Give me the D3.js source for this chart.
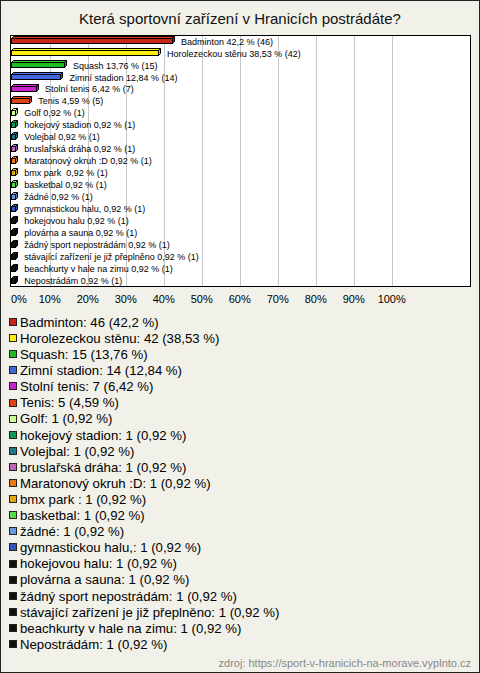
<!DOCTYPE html>
<html><head><meta charset="utf-8">
<script src="https://cdn.jsdelivr.net/npm/d3@7"></script>
<style>
html,body{margin:0;padding:0;background:#fff;}
svg{display:block;}
</style></head>
<body>
<script>
const categories = ["Badminton","Horolezeckou stěnu","Squash","Zimní stadion","Stolní tenis","Tenis","Golf","hokejový stadion","Volejbal","bruslařská dráha","Maratonový okruh :D","bmx park ","basketbal","žádné","gymnastickou halu,","hokejovou halu","plovárna a sauna","žádný sport nepostrádám","stávající zařízení je již přeplněno","beachkurty v hale na zimu","Nepostrádám"];
const counts = [46,42,15,14,7,5,1,1,1,1,1,1,1,1,1,1,1,1,1,1,1];
const percents = [42.2,38.53,13.76,12.84,6.42,4.59,0.92,0.92,0.92,0.92,0.92,0.92,0.92,0.92,0.92,0.92,0.92,0.92,0.92,0.92,0.92];
const colors = ["#c8261a","#ffee11","#22bb22","#4466dd","#cc22cc","#dd4411","#ccff99","#119955","#227788","#bb66bb","#ee7711","#ddaa11","#55dd44","#6699dd","#3355bb","#111111","#111111","#111111","#111111","#111111","#111111"];
const xTicks = [0,10,20,30,40,50,60,70,80,90,100];
const title = "Která sportovní zařízení v Hranicích postrádáte?";
const source = "zdroj: https://sport-v-hranicich-na-morave.vyplnto.cz";

const W = 480, H = 673;
const fmt = v => String(v).replace(".", ",");
const svg = d3.select("body").append("svg").attr("width", W).attr("height", H);
const font = "'Liberation Sans', Arial, sans-serif";

svg.append("rect").attr("x",0.5).attr("y",0.5).attr("width",W-1).attr("height",H-1)
  .attr("fill","#f2f1e9").attr("stroke","#222");

svg.append("text").attr("x",240).attr("y",24).attr("text-anchor","middle")
  .attr("font-family",font).attr("font-size",15).attr("fill","#111").text(title);

const plot = {x0:10.5, y0:35.5, x1:470.5, y1:286.5};
svg.append("rect").attr("x",plot.x0).attr("y",plot.y0).attr("width",plot.x1-plot.x0).attr("height",plot.y1-plot.y0)
  .attr("fill","#fff");

const x = d3.scaleLinear().domain([0,100]).range([11.7,391.7]);
const y = d3.scaleBand().domain(categories).range([plot.y0, plot.y1]);

// grid
svg.append("g").selectAll("line").data(xTicks.slice(1)).join("line")
  .attr("x1", d=>Math.round(x(d))+0.5).attr("x2", d=>Math.round(x(d))+0.5)
  .attr("y1", plot.y0).attr("y2", plot.y1).attr("stroke","#c8c8c8").attr("stroke-width",1);

svg.append("rect").attr("x",plot.x0).attr("y",plot.y0).attr("width",plot.x1-plot.x0).attr("height",plot.y1-plot.y0)
  .attr("fill","none").attr("stroke","#000");

// bars (3D)
const bars = svg.append("g");
categories.forEach((c,i)=>{
  const cy = y(c) + y.bandwidth()/2;
  const xa = Math.round(x(0)) - 0.5, xb = Math.round(x(percents[i])) + 0.5;
  const top = Math.round(cy) - 2.5, bot = Math.round(cy) + 2.5;
  const d = 2;
  const col = d3.color(colors[i]);
  bars.append("path").attr("d",`M${xa},${top}L${xa+d},${top-d}L${xb+d},${top-d}L${xb},${top}Z`)
    .attr("fill", col.brighter(0.3)).attr("stroke","#000").attr("stroke-width",1);
  bars.append("path").attr("d",`M${xb},${top}L${xb+d},${top-d}L${xb+d},${bot-d}L${xb},${bot}Z`)
    .attr("fill", col.darker(0.5)).attr("stroke","#000").attr("stroke-width",1);
  bars.append("rect").attr("x",xa).attr("y",top).attr("width",xb-xa).attr("height",bot-top)
    .attr("fill", colors[i]).attr("stroke","#000").attr("stroke-width",1);
  bars.append("text").attr("x", x(percents[i]) + 9).attr("y", cy + 3.2)
    .attr("font-family",font).attr("font-size",9).attr("fill","#000")
    .style("white-space","pre")
    .text(`${c} ${fmt(percents[i])} % (${counts[i]})`);
});

// x tick labels
svg.append("g").selectAll("text").data(xTicks).join("text")
  .attr("x", d => d===0 ? 11 : x(d)).attr("y", 303)
  .attr("text-anchor", d => d===0 ? "start" : "middle")
  .attr("font-family",font).attr("font-size",11).attr("fill","#000")
  .text(d => d + "%");

// legend
const lg = svg.append("g");
const ly = d3.scaleLinear().domain([0, categories.length-1]).range([322, 644]);
categories.forEach((c,i)=>{
  const yy = ly(i);
  lg.append("rect").attr("x",9.5).attr("y",Math.round(yy)-3.5).attr("width",7).attr("height",7)
    .attr("fill",colors[i]).attr("stroke","#222");
  lg.append("text").attr("x",20).attr("y",yy+4.8)
    .attr("font-family",font).attr("font-size",13.2).attr("fill","#000")
    .text(`${c}: ${counts[i]} (${fmt(percents[i])} %)`);
});

svg.append("text").attr("x",471).attr("y",667).attr("text-anchor","end")
  .attr("font-family",font).attr("font-size",11).attr("fill","#888").text(source);
</script>
</body></html>
